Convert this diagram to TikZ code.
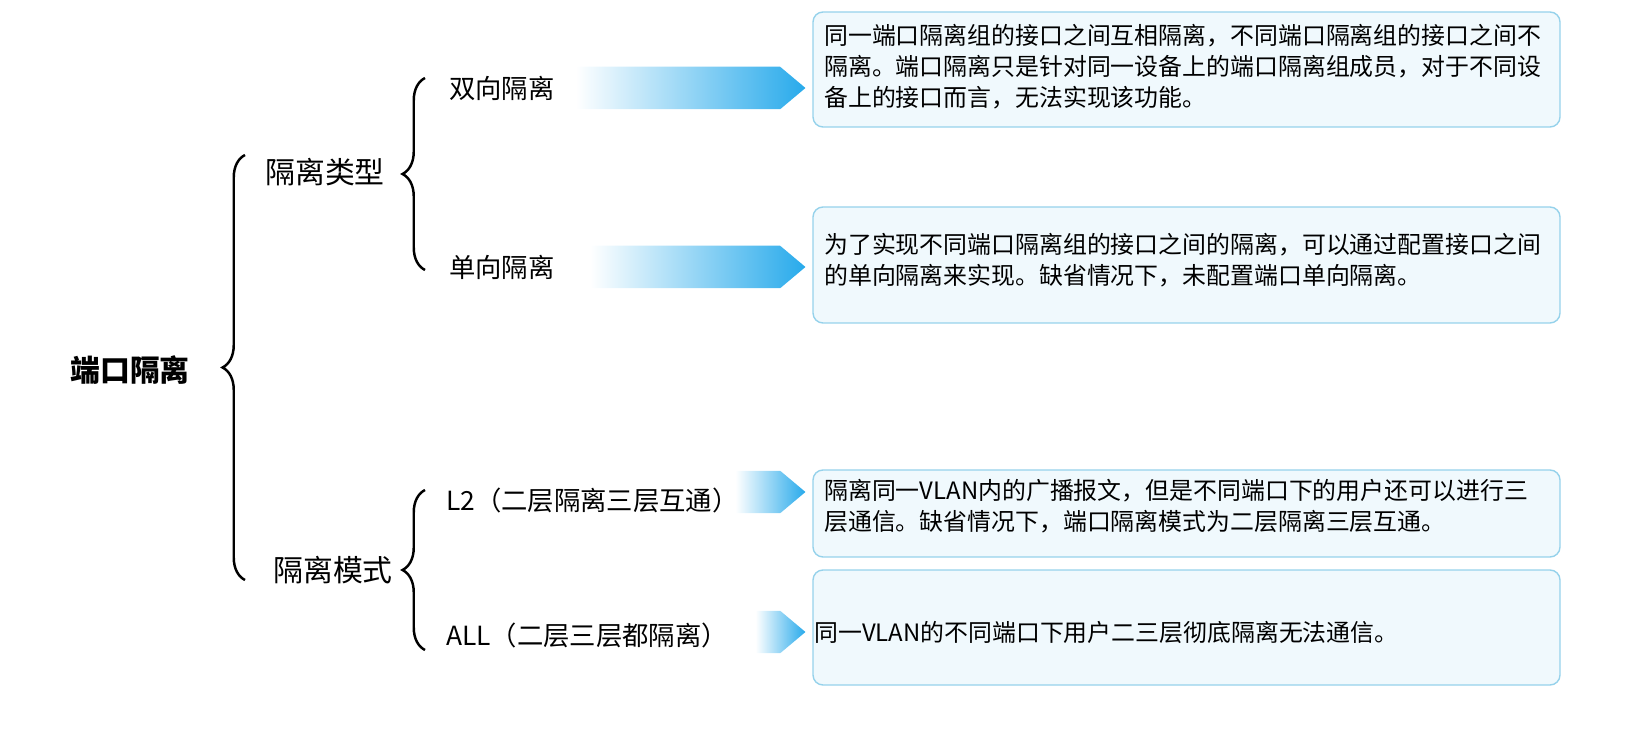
\documentclass[tikz,border=0pt]{standalone}
\usepackage{fontspec}
\setmainfont{Noto Sans CJK SC}
\usetikzlibrary{positioning,decorations.pathreplacing,shapes.arrows}
\definecolor{boxLine}{RGB}{150,210,235}
\definecolor{boxFill}{RGB}{240,249,253}
\definecolor{arrowBlue}{RGB}{40,170,235}
\tikzstyle{topicText} = [font=\fontsize{17}{20}\selectfont\bfseries]
\tikzstyle{groupText} = [font=\fontsize{17}{20}\selectfont]
\tikzstyle{itemText} = [font=\fontsize{15}{18}\selectfont, anchor=west]
\tikzstyle{noteBox} = [draw=boxLine, fill=boxFill, rounded corners=.2cm, line width=.8pt]
\tikzstyle{noteText} = [font=\fontsize{13.6}{17.6}\selectfont, anchor=north west, align=left]
\tikzstyle{curly} = [line width=1.4pt, decorate, decoration={brace, amplitude=.45cm}]
\tikzstyle{fadeArrow} = [single arrow, left color=white, right color=arrowBlue, draw=none,
  minimum height=#1, minimum width=.85cm, single arrow head extend=0cm, single arrow tip angle=80, anchor=east]
\begin{document}
\begin{tikzpicture}[x=0.02cm, y=-0.02cm]
  % topic and braces
  \node [topicText] (port) at (130,370) {端口隔离};
  \draw [curly] (245,580) -- (245,155);
  \node [groupText] (type) at (325,172) {隔离类型};
  \node [groupText] (mode) at (333,570) {隔离模式};
  \draw [curly] (425,270) -- (425,78);
  \draw [curly] (425,650) -- (425,490);
  % items
  \node [itemText] (both) at (443,88) {双向隔离};
  \node [itemText] (single) at (443,267) {单向隔离};
  \node [itemText] (ltwo) at (440,500) {L2（二层隔离三层互通）};
  \node [itemText] (all) at (440,635) {ALL（二层三层都隔离）};
  % notes
  \filldraw [noteBox] (813,12) rectangle (1560,127);
  \filldraw [noteBox] (813,207) rectangle (1560,323);
  \filldraw [noteBox] (813,470) rectangle (1560,557);
  \filldraw [noteBox] (813,570) rectangle (1560,685);
  \node [noteText] (bothNote) at (818,18) {同一端口隔离组的接口之间互相隔离，不同端口隔离组的接口之间不\\隔离。端口隔离只是针对同一设备上的端口隔离组成员，对于不同设\\备上的接口而言，无法实现该功能。};
  \node [noteText] (singleNote) at (818,227) {为了实现不同端口隔离组的接口之间的隔离，可以通过配置接口之间\\的单向隔离来实现。缺省情况下，未配置端口单向隔离。};
  \node [noteText] (ltwoNote) at (818,473) {隔离同一VLAN内的广播报文，但是不同端口下的用户还可以进行三\\层通信。缺省情况下，端口隔离模式为二层隔离三层互通。};
  \node [noteText] (allNote) at (808,615) {同一VLAN的不同端口下用户二三层彻底隔离无法通信。};
  % arrows
  \node [fadeArrow=4.6cm] (bothArrow) at (806,88) {};
  \node [fadeArrow=4.3cm] (singleArrow) at (806,267) {};
  \node [fadeArrow=1.4cm] (ltwoArrow) at (806,492) {};
  \node [fadeArrow=1.0cm] (allArrow) at (806,632) {};
  \pgfresetboundingbox
  \useasboundingbox (0,0) rectangle (1642,732);
\end{tikzpicture}
\end{document}
